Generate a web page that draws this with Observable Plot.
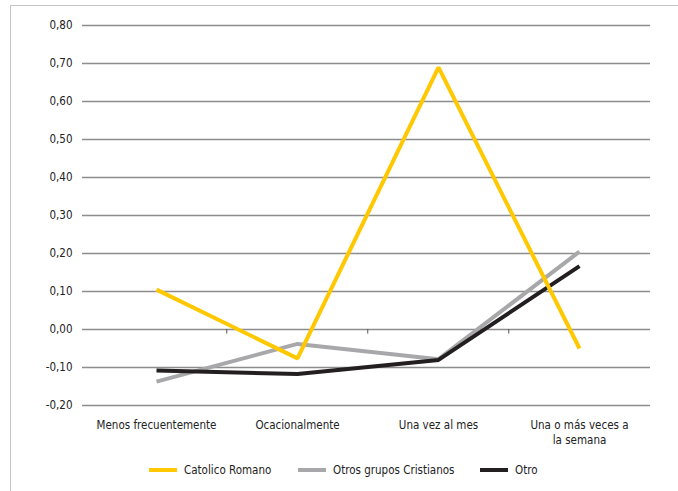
<!DOCTYPE html>
<html>
<head>
<meta charset="utf-8">
<script src="https://cdn.jsdelivr.net/npm/d3@7"></script>
<script src="https://cdn.jsdelivr.net/npm/@observablehq/plot@0.6"></script>
<style>
  html, body { margin: 0; padding: 0; background: #fff; }
  #wrap { position: relative; width: 678px; height: 491px; overflow: hidden;
          font-family: "DejaVu Sans Condensed", "Liberation Sans Narrow", "Liberation Sans", sans-serif; }
  #border { position: absolute; left: 10px; top: 5px; width: 700px; height: 520px;
            border-left: 1.5px solid #c4c4c4; border-top: 1.5px solid #c4c4c4; }
  #chart { position: absolute; left: 0; top: 0; }
  #legend { position: absolute; left: 0; top: 463px; width: 678px; height: 16px;
            font-size: 11.5px; color: #222; }
  .item { position: absolute; top: 0; display: flex; align-items: center; white-space: nowrap; }
  .sw { width: 28px; height: 4px; margin-right: 7px; }
</style>
</head>
<body>
<div id="wrap">
  <div id="border"></div>
  <div id="chart"></div>
  <div id="legend"></div>
</div>
<script>
const categories = ["Menos frecuentemente", "Ocacionalmente", "Una vez al mes", "Una o más veces a\nla semana"];
const seriesNames = ["Catolico Romano", "Otros grupos Cristianos", "Otro"];
const catolicoRomano = [0.105, -0.076, 0.69, -0.05];
const otrosCristianos = [-0.137, -0.038, -0.078, 0.205];
const otro = [-0.108, -0.117, -0.08, 0.167];
const yTicks = [-0.2, -0.1, 0, 0.1, 0.2, 0.3, 0.4, 0.5, 0.6, 0.7, 0.8];
const colors = ["#ffc800", "#a8a8aa", "#231f20"];

const toRows = (vals) => categories.map((c, i) => ({cat: c, v: vals[i]}));
const fmt = d => d.toFixed(2).replace(".", ",");
const fontFam = '"DejaVu Sans Condensed", "Liberation Sans Narrow", "Liberation Sans", sans-serif';

const W = 678, H = 450, mL = 84, mR = 28;
const step = (W - mL - mR) / categories.length;

const chart = Plot.plot({
  width: W, height: H,
  marginLeft: mL, marginRight: mR, marginTop: 25, marginBottom: 45,
  style: {fontFamily: fontFam, fontSize: "11.5px", color: "#222", background: "transparent"},
  x: {type: "point", domain: categories, padding: 0.5, label: null},
  y: {domain: [-0.2, 0.8], label: null},
  marks: [
    Plot.ruleY(yTicks, {stroke: "#8c8c8c", strokeWidth: 1.6, insetLeft: -2, strokeOpacity: 1}),
    Plot.ruleX(categories.slice(1), {y1: 0, y2: -0.012, dx: -step / 2, stroke: "#555", strokeWidth: 1}),
    Plot.axisY({ticks: yTicks, tickFormat: fmt, tickSize: 0, tickPadding: 12, fontSize: 11.5}),
    Plot.axisX({tickSize: 0, tickPadding: 12, fontSize: 11.5, lineHeight: 1.35}),
    Plot.line(toRows(otrosCristianos), {x: "cat", y: "v", stroke: colors[1], strokeWidth: 4, strokeLinejoin: "miter", strokeLinecap: "butt"}),
    Plot.line(toRows(otro), {x: "cat", y: "v", stroke: colors[2], strokeWidth: 4, strokeLinejoin: "miter", strokeLinecap: "butt"}),
    Plot.line(toRows(catolicoRomano), {x: "cat", y: "v", stroke: colors[0], strokeWidth: 4, strokeLinejoin: "miter", strokeLinecap: "butt"})
  ]
});
document.getElementById("chart").appendChild(chart);

const legendLeft = [149, 298, 480];
const legend = document.getElementById("legend");
seriesNames.forEach((name, i) => {
  const item = document.createElement("div");
  item.className = "item";
  item.style.left = legendLeft[i] + "px";
  const sw = document.createElement("div");
  sw.className = "sw";
  sw.style.background = colors[i];
  const t = document.createElement("span");
  t.textContent = name;
  item.appendChild(sw);
  item.appendChild(t);
  legend.appendChild(item);
});
</script>
</body>
</html>
